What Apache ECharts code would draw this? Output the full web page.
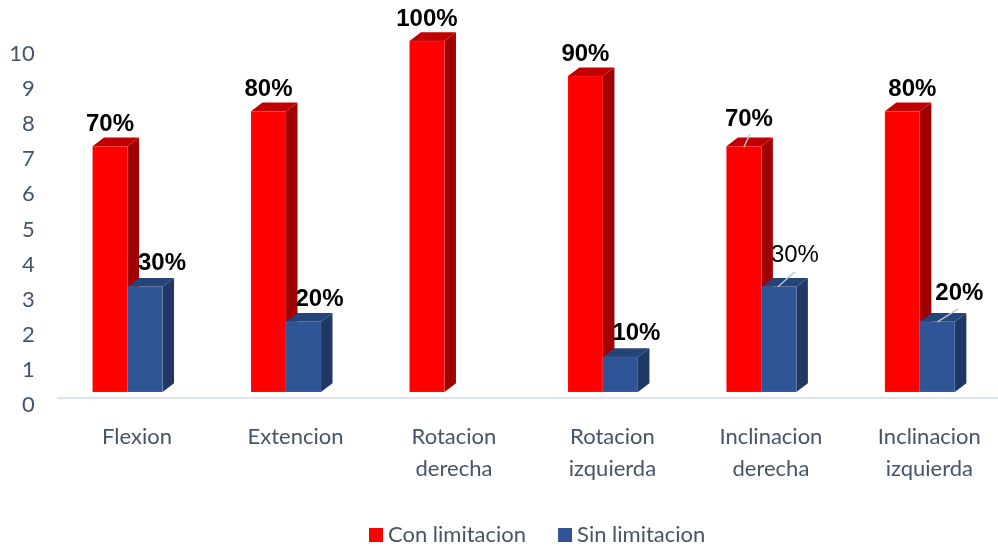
<!DOCTYPE html>
<html><head><meta charset="utf-8">
<style>html,body{margin:0;padding:0;background:#fff}#c{width:998px;height:546px}</style>
<script src="https://cdn.jsdelivr.net/npm/echarts@6/dist/echarts.min.js"></script>
</head><body><div id="c"></div>
<script>
const categories = ['Flexion','Extencion','Rotacion\nderecha','Rotacion\nizquierda','Inclinacion\nderecha','Inclinacion\nizquierda'];
const conLimitacion = [7,8,10,9,7,8];
const sinLimitacion = [3,2,null,1,3,2];
const conLabels = ['70%','80%','100%','90%','70%','80%'];
const sinLabels = ['30%','20%','','10%','30%','20%'];

// Presentation only: label nudges and leader lines, relative to each bar's front top centre
const conNudge = [[0,-22],[0,-22],[0,-22],[0,-22],[5,-27],[10,-22]];
const sinNudge = [[17,-23],[16,-22],[0,0],[16,-24],[16,-31],[22,-28]];
const conLeader = [null,null,null,null,[0,1,6,-12],null];
const sinLeader = [null,null,null,null,[-1,0,16,-15],[0,0,21,-13]];
const sinWeight = ['bold','bold','bold','bold','normal','bold'];
const conWeight = conLabels.map(()=>'bold');

const BAR_W = 35, DX = 11.5, DY = 8.7, SHIFT = -9.5;

function maker(side, colors, labels, nudges, leaders, weights){
  return function(params, api){
    const v = api.value(1);
    if (v === null || v === undefined || isNaN(v)) return;
    const i = api.value(0);
    const top = api.coord([i, v]), base = api.coord([i, 0]);
    const x0 = top[0] + SHIFT + (side < 0 ? -BAR_W : 0), x1 = x0 + BAR_W;
    const yt = top[1], yb = base[1];
    const edge = {stroke:'rgba(255,255,255,0.15)', lineWidth:0.6};
    const cx = (x0 + x1) / 2;
    const children = [
      {type:'polygon', shape:{points:[[x1,yt],[x1+DX,yt-DY],[x1+DX,yb-DY],[x1,yb]]}, style:{fill:colors.side}},
      {type:'polygon', shape:{points:[[x0,yt],[x0+DX,yt-DY],[x1+DX,yt-DY],[x1,yt]]}, style:{fill:colors.top}},
      {type:'rect', shape:{x:x0,y:yt,width:BAR_W,height:yb-yt}, style:Object.assign({fill:colors.front}, edge)}
    ];
    const lead = leaders[params.dataIndex];
    if (lead) children.push({type:'line', shape:{x1:cx+lead[0],y1:yt+lead[1],x2:cx+lead[2],y2:yt+lead[3]}, style:{stroke:'#b8c4d4',lineWidth:1.5}});
    const n = nudges[params.dataIndex];
    children.push({type:'text', x:cx+n[0], y:yt+n[1], style:{text:labels[params.dataIndex], fill:'#000',
      font:weights[params.dataIndex]+' 24px "Liberation Sans", Arial, sans-serif', textAlign:'center', textVerticalAlign:'middle'}});
    return {type:'group', children};
  };
}

const chart = echarts.init(document.getElementById('c'), null, {renderer:'canvas'});
chart.setOption({
  animation:false,
  textStyle:{fontFamily:'Lato, sans-serif'},
  grid:{left:57.8, top:41, width:950.8, height:351, containLabel:false, outerBoundsMode:'none'},
  legend:{
    data:['Con limitacion','Sin limitacion'], top:519, left:364, icon:'rect', itemWidth:14, itemHeight:14, itemGap:32,
    textStyle:{color:'#44546a', fontSize:22, fontFamily:'Lato, sans-serif', padding:[0,0,0,0]}
  },
  xAxis:{
    type:'category', data:categories, offset:6,
    axisLine:{show:true, onZero:false, lineStyle:{color:'#dde3ec', width:2}}, axisTick:{show:false},
    axisLabel:{color:'#44546a', fontSize:22, lineHeight:32, margin:23, interval:0, fontFamily:'Lato, sans-serif'}
  },
  yAxis:{
    type:'value', min:0, max:10, interval:1,
    axisLine:{show:false}, axisTick:{show:false}, splitLine:{show:false},
    axisLabel:{color:'#44546a', fontSize:22, margin:23, verticalAlign:'top', lineHeight:26, fontFamily:'Lato, sans-serif'}
  },
  series:[
    {name:'Con limitacion', type:'custom', itemStyle:{color:'#ff0000'}, encode:{x:0,y:1},
     data:conLimitacion.map((v,i)=>[i,v]),
     renderItem:maker(-1,{front:'#ff0000',top:'#c00000',side:'#a00000'},conLabels,conNudge,conLeader,conWeight)},
    {name:'Sin limitacion', type:'custom', itemStyle:{color:'#2f5597'}, encode:{x:0,y:1},
     data:sinLimitacion.map((v,i)=>[i,v]),
     renderItem:maker(1,{front:'#2f5597',top:'#254478',side:'#1f3864'},sinLabels,sinNudge,sinLeader,sinWeight)}
  ]
});
</script></body></html>
